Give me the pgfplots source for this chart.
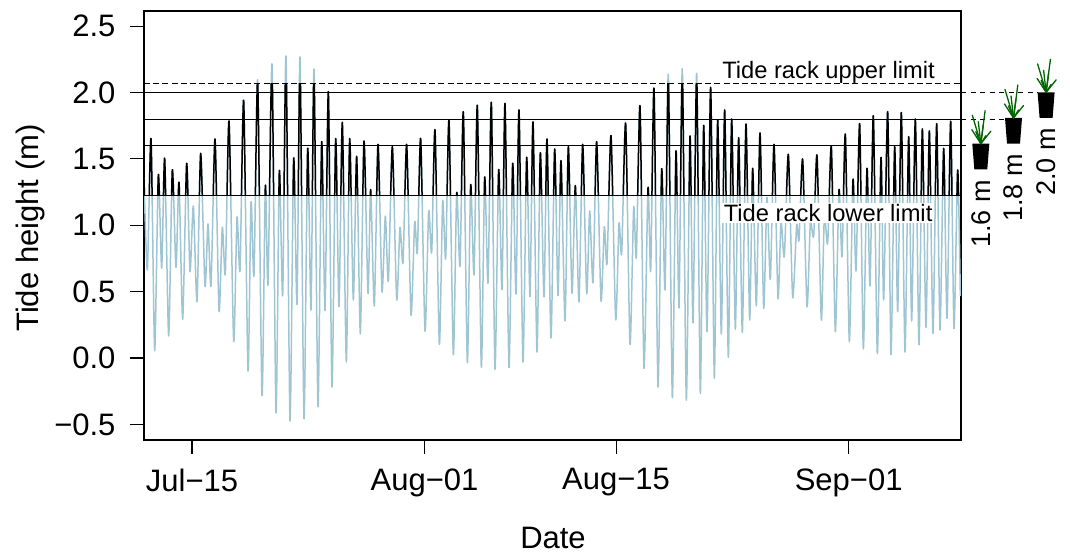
\documentclass[border=0pt]{standalone}
\usepackage{fontspec}
\setmainfont{Liberation Sans}
\usepackage{pgfplots}
\usepackage{pgfplotstable}
\pgfplotsset{compat=1.18}
\definecolor{tideblue}{HTML}{9FC5D3}
\definecolor{plantgreen}{HTML}{006400}
\pgfplotstableread{
d v
-3.509 1.354
-3.265 0.663
-2.997 1.653
-2.729 0.055
-2.461 1.379
-2.217 0.676
-1.998 1.505
-1.706 0.166
-1.438 1.417
-1.170 0.683
-0.950 1.324
-0.682 0.291
-0.390 1.467
-0.146 0.651
0.097 1.145
0.365 0.425
0.634 1.542
0.950 0.543
1.170 1.010
1.389 0.545
1.681 1.650
1.974 0.354
2.217 0.985
2.437 0.636
2.705 1.786
3.046 0.126
3.289 1.060
3.509 0.661
3.777 1.942
4.093 -0.098
4.313 1.173
4.532 0.625
4.800 2.095
5.117 -0.284
5.361 1.296
5.555 0.555
5.848 2.216
6.140 -0.412
6.384 1.409
6.628 0.472
6.871 2.276
7.164 -0.472
7.432 1.505
7.675 0.404
7.895 2.266
8.187 -0.457
8.455 1.580
8.699 0.362
8.918 2.175
9.210 -0.367
9.478 1.630
9.722 0.357
9.966 2.007
10.234 -0.219
10.502 1.653
10.745 0.387
10.989 1.776
11.281 -0.030
11.525 1.653
11.793 0.437
12.037 1.520
12.305 0.181
12.573 1.635
12.865 0.487
13.060 1.269
13.328 0.392
13.596 1.610
13.889 0.500
14.132 1.070
14.352 0.580
14.644 1.593
14.961 0.442
15.204 0.985
15.424 0.718
15.692 1.610
16.008 0.324
16.276 1.027
16.472 0.794
16.715 1.653
17.032 0.203
17.300 1.108
17.519 0.794
17.763 1.718
18.080 0.103
18.323 1.181
18.543 0.751
18.786 1.789
19.103 0.025
19.347 1.243
19.590 0.693
19.834 1.854
20.126 -0.035
20.370 1.304
20.614 0.628
20.857 1.904
21.150 -0.070
21.393 1.362
21.637 0.565
21.881 1.927
22.149 -0.085
22.417 1.419
22.660 0.515
22.880 1.919
23.172 -0.073
23.440 1.467
23.684 0.482
23.903 1.869
24.195 -0.030
24.463 1.512
24.707 0.462
24.926 1.779
25.219 0.045
25.462 1.547
25.731 0.460
25.950 1.650
26.242 0.151
26.510 1.575
26.754 0.470
26.973 1.487
27.266 0.279
27.509 1.593
27.777 0.487
28.021 1.299
28.289 0.422
28.557 1.610
28.849 0.487
29.069 1.108
29.312 0.570
29.580 1.630
29.897 0.432
30.141 0.990
30.336 0.711
30.628 1.676
30.969 0.291
31.213 1.015
31.408 0.789
31.700 1.768
32.017 0.103
32.285 1.135
32.480 0.761
32.748 1.899
33.040 -0.078
33.333 1.281
33.528 0.656
33.771 2.032
34.064 -0.219
34.332 1.424
34.576 0.515
34.819 2.138
35.111 -0.299
35.379 1.560
35.599 0.377
35.842 2.178
36.135 -0.317
36.403 1.673
36.622 0.264
36.890 2.145
37.158 -0.266
37.402 1.753
37.645 0.198
37.913 2.040
38.182 -0.153
38.425 1.794
38.693 0.181
38.937 1.869
39.205 0.005
39.449 1.801
39.717 0.216
39.960 1.660
40.228 0.193
40.496 1.763
40.764 0.286
40.984 1.429
41.252 0.394
41.520 1.696
41.788 0.374
42.031 1.211
42.275 0.593
42.543 1.610
42.835 0.450
43.055 1.027
43.298 0.764
43.591 1.535
43.908 0.457
44.200 1.002
44.370 0.889
44.638 1.497
44.955 0.387
45.199 1.015
45.443 0.919
45.686 1.525
46.003 0.286
46.222 1.065
46.466 0.864
46.734 1.593
47.026 0.198
47.294 1.266
47.514 0.764
47.758 1.686
48.050 0.123
48.318 1.346
48.537 0.656
48.805 1.766
49.073 0.068
49.341 1.429
49.561 0.543
49.804 1.826
50.097 0.033
50.365 1.512
50.559 0.437
50.852 1.856
51.096 0.025
51.364 1.593
51.583 0.349
51.851 1.849
52.119 0.045
52.387 1.668
52.606 0.279
52.874 1.801
53.142 0.100
53.386 1.726
53.654 0.231
53.898 1.711
54.166 0.186
54.434 1.766
54.678 0.211
54.946 1.580
55.189 0.299
55.457 1.784
55.701 0.221
55.969 1.417
56.164 0.467
}\tidetable
\begin{document}
\begin{tikzpicture}[x=1pt,y=1pt]
\useasboundingbox (0,0) rectangle (1070,554);
\begin{axis}[
  at={(144pt,114pt)}, anchor=south west,
  scale only axis, width=817pt, height=429pt,
  xmin=-3.509, xmax=56.213, ymin=-0.618, ymax=2.615,
  axis line style={line width=1.1pt},
  tick style={line width=1.1pt, black},
  major tick length=14pt,
  tick align=outside, xtick pos=bottom, ytick pos=left,
  clip mode=individual,
  xtick={0,17,31,48},
  xticklabels={Jul−15,Aug−01,Aug−15,Sep−01},
  ytick={-0.5,0,0.5,1,1.5,2,2.5},
  yticklabels={−0.5,0.0,0.5,1.0,1.5,2.0,2.5},
  tick label style={font=\fontsize{31}{34}\selectfont},
  x tick label style={yshift=-11pt},
  y tick label style={xshift=-11pt},
  xlabel={Date}, ylabel={Tide height (m)},
  every axis x label/.style={at={(rel axis cs:0.5006,-0.228)},anchor=center,font=\fontsize{31}{34}\selectfont},
  every axis y label/.style={at={(rel axis cs:-0.1395,0.494)},anchor=center,rotate=90,font=\fontsize{31}{34}\selectfont},
]
\addplot[tideblue, line width=1.5pt, line join=round, smooth, tension=0.4, no marks] table[x=d,y=v] {\tidetable};
\addplot[black, line width=1.05pt, no marks] coordinates {(-3.509,1.228) (56.213,1.228)};
\addplot[black, line width=1.05pt, no marks] coordinates {(-3.509,1.6) (56.213,1.6)};
\addplot[black, line width=1.05pt, no marks] coordinates {(-3.509,1.8) (56.213,1.8)};
\addplot[black, line width=1.05pt, no marks] coordinates {(-3.509,2.0) (56.213,2.0)};
\addplot[black, line width=1.05pt, dash pattern=on 6pt off 3.2pt, no marks] coordinates {(-3.509,2.07) (56.213,2.07)};
\draw[black, line width=1.05pt] (axis cs:56.213,1.6) -- (axis cs:56.58,1.6);
\draw[black, line width=1.05pt, dash pattern=on 5pt off 4.5pt] (axis cs:56.213,1.8) -- (axis cs:59.43,1.8);
\draw[black, line width=1.05pt, dash pattern=on 5pt off 4.5pt] (axis cs:56.213,2.0) -- (axis cs:61.84,2.0);
\node[fill=white, inner sep=0pt, minimum height=20pt, font=\fontsize{23.7}{26}\selectfont, anchor=center] at (axis cs:46.53,2.155) {Tide rack upper limit};
\node[fill=white, inner xsep=2pt, inner ysep=0pt, minimum height=20pt, font=\fontsize{23.7}{26}\selectfont, anchor=center] at (axis cs:46.5,1.094) {Tide rack lower limit};
\end{axis}
\begin{axis}[
  at={(144pt,359pt)}, anchor=south west,
  scale only axis, width=817pt, height=111.7pt,
  xmin=-3.509, xmax=56.213, ymin=1.228, ymax=2.07,
  hide axis,
]
\addplot[black, line width=1.5pt, line join=round, smooth, tension=0.4, no marks] table[x=d,y=v] {\tidetable};
\end{axis}
% plant pots
\foreach \dx/\dy/\lab/\tx/\ty in {0/0/1.6 m/981/180, 32.7/25.7/1.8 m/1013/154, 65.3/51.3/2.0 m/1046/128}{
  \begin{scope}[shift={(980.8+\dx,410.3+\dy)}]
    \fill[black] (-8.5,0) -- (8.5,0) -- (6.5,-25.6) -- (-6.5,-25.6) -- cycle;
    \draw[plantgreen, line width=1.3pt, line cap=round] (0,0) -- (-8.5,28.5);
    \draw[plantgreen, line width=1.3pt, line cap=round] (0,0) -- (4.3,33);
    \draw[plantgreen, line width=1.3pt, line cap=round] (0,0) -- (10,12.5);
    \draw[plantgreen, line width=1.3pt, line cap=round] (0,0) -- (-9,14);
    \draw[plantgreen, line width=1.3pt, line cap=round] (0,0) -- (-2.5,22);
    \draw[plantgreen, line width=1.3pt, line cap=round] (0,0) -- (2.5,19);
    \draw[plantgreen, line width=1.3pt, line cap=round] (0,0) -- (-5,12);
    \draw[plantgreen, line width=1.3pt, line cap=round] (0,0) -- (5,8);
  \end{scope}
  \node[rotate=90, anchor=east, inner sep=0pt, font=\fontsize{27}{30}\selectfont] at (\tx,554-\ty) {\lab};
}
\end{tikzpicture}
\end{document}
